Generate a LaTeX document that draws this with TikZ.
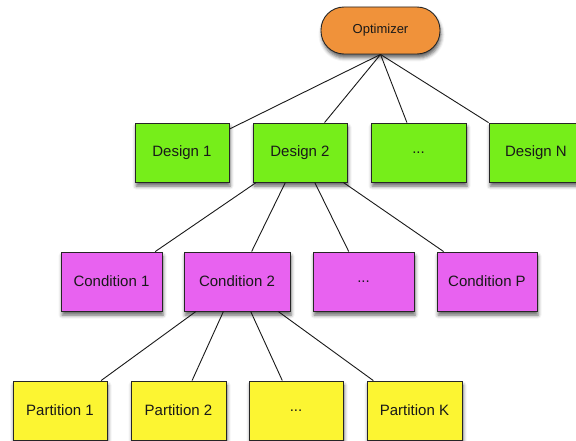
\documentclass[tikz,border=0pt]{standalone}
\usepackage{fontspec}
\setmainfont{Liberation Sans}
\usetikzlibrary{shadows.blur}
\definecolor{optorange}{RGB}{240,146,58}
\definecolor{desgreen}{RGB}{118,238,26}
\definecolor{condmag}{RGB}{232,98,240}
\definecolor{partyel}{RGB}{252,245,50}
\tikzset{
  box/.style={draw=black!85, line width=0.9pt, minimum height=59pt, inner sep=0pt,
    font=\fontsize{15}{17}\selectfont, text=black!90,
    blur shadow={shadow xshift=1pt, shadow yshift=-4pt, shadow blur radius=3.5pt, shadow opacity=60}},
  optbox/.style={box, fill=optorange, rounded corners=23pt, minimum width=119pt, minimum height=47pt,
    font=\fontsize{13}{15}\selectfont},
  desbox/.style={box, fill=desgreen, minimum width=94pt},
  condbox/.style={box, fill=condmag, minimum width=101pt},
  partbox/.style={box, fill=partyel, minimum width=94pt},
  link/.style={draw=black!90, line width=0.9pt}
}
\begin{document}
\begin{tikzpicture}[x=1pt,y=-1pt]
\useasboundingbox (0,0) rectangle (576,441);
\node[optbox] (opt) at (380.5,30.5) {Optimizer};

\node[desbox] (d1) at (182,152.5) {Design 1};
\node[desbox] (d2) at (300,152.5) {Design 2};
\node[desbox, minimum width=95pt] (d3) at (418.5,152.5) {...};
\node[desbox] (dn) at (536,152.5) {Design N};

\node[condbox] (c1) at (111.5,281.5) {Condition 1};
\node[condbox, minimum width=106pt] (c2) at (237,281.5) {Condition 2};
\node[condbox] (c3) at (363.5,281.5) {...};
\node[condbox, minimum width=100pt] (cp) at (487,281.5) {Condition P};

\node[partbox] (p1) at (60,410.5) {Partition 1};
\node[partbox, minimum width=95pt] (p2) at (178.5,410.5) {Partition 2};
\node[partbox] (p3) at (296,410.5) {...};
\node[partbox, minimum width=95pt] (pk) at (414.5,410.5) {Partition K};

\foreach \n in {d1,d2,d3,dn} \draw[link] (opt.south) -- (\n);
\foreach \n in {c1,c2,c3,cp} \draw[link] (d2) -- (\n);
\foreach \n in {p1,p2,p3,pk} \draw[link] (c2) -- (\n);
\end{tikzpicture}
\end{document}
